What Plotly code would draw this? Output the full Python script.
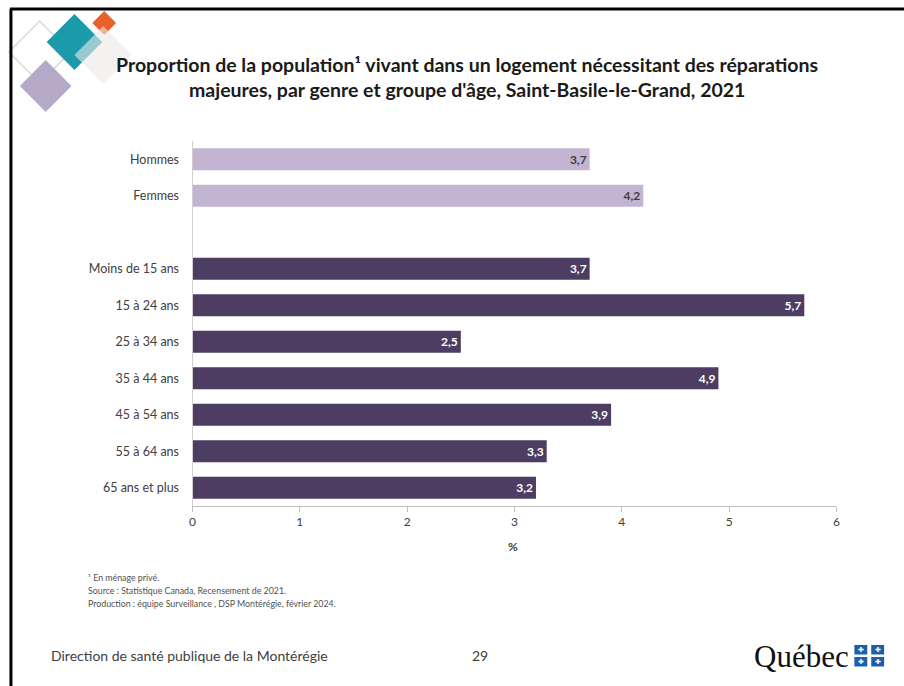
import plotly.graph_objects as go

W, H = 904, 686

gender_labels = ["Hommes", "Femmes"]
gender_values = [3.7, 4.2]
age_labels = ["Moins de 15 ans", "15 à 24 ans", "25 à 34 ans", "35 à 44 ans",
              "45 à 54 ans", "55 à 64 ans", "65 ans et plus"]
age_values = [3.7, 5.7, 2.5, 4.9, 3.9, 3.3, 3.2]
spacer = [" "]
x_ticks = [0, 1, 2, 3, 4, 5, 6]

title_lines = ["Proportion de la population¹ vivant dans un logement nécessitant des réparations",
               "majeures, par genre et groupe d'âge, Saint-Basile-le-Grand, 2021"]
footnotes = ["¹ En ménage privé.",
             "Source : Statistique Canada, Recensement de 2021.",
             "Production : équipe Surveillance , DSP Montérégie, février 2024."]

LIGHT = "#C3B4D2"
DARK = "#4D3D63"
FONT = "Lato, 'Open Sans', sans-serif"


def fmt(v):
    return f"{v:.1f}".replace(".", ",")


def px(x):
    return x / W


def py(y):
    return 1 - y / H


fig = go.Figure()
fig.add_trace(go.Bar(
    y=gender_labels, x=gender_values, orientation="h",
    marker=dict(color=LIGHT, line=dict(width=0)),
    text=[fmt(v) for v in gender_values], textposition="inside",
    insidetextanchor="end", textangle=0,
    textfont=dict(family=FONT, size=12, color="#404040", weight="bold"),
    hoverinfo="x+y",
))
fig.add_trace(go.Bar(
    y=age_labels, x=age_values, orientation="h",
    marker=dict(color=DARK, line=dict(width=0)),
    text=[fmt(v) for v in age_values], textposition="inside",
    insidetextanchor="end", textangle=0,
    textfont=dict(family=FONT, size=12, color="white", weight="bold"),
    hoverinfo="x+y",
))

shapes = []


def diamond(cx, cy, r, fill=None, line=None, opacity=1.0, lw=1.5):
    path = (f"M {px(cx - r)},{py(cy)} L {px(cx)},{py(cy - r)} "
            f"L {px(cx + r)},{py(cy)} L {px(cx)},{py(cy + r)} Z")
    shapes.append(dict(type="path", xref="paper", yref="paper", path=path,
                       fillcolor=fill if fill else "rgba(0,0,0,0)",
                       line=dict(color=line if line else "rgba(0,0,0,0)", width=lw),
                       opacity=opacity, layer="above"))


# logo diamonds
diamond(37, 52, 31, fill=None, line="#D5DAD2", lw=1.5)
diamond(43, 86, 26, fill="#B4AAC8")
diamond(72, 42, 28, fill="#1B9AAA")
diamond(102, 23, 12, fill="#E8602A")
diamond(101, 55, 29, fill="#EDEAE8", opacity=0.6)

# border
shapes.append(dict(type="line", xref="paper", yref="paper",
                   x0=px(8), x1=px(8), y0=py(9), y1=py(690),
                   line=dict(color="black", width=3)))
shapes.append(dict(type="line", xref="paper", yref="paper",
                   x0=px(7), x1=px(910), y0=py(9), y1=py(9),
                   line=dict(color="black", width=3)))

# Quebec flag squares
flag_cells = [(858, 645), (875, 645), (858, 657), (875, 657)]
for (x0, y0) in flag_cells:
    shapes.append(dict(type="rect", xref="paper", yref="paper",
                       x0=px(x0), x1=px(x0 + 13), y0=py(y0), y1=py(y0 + 9.5),
                       fillcolor="#1F5FA8", line=dict(width=0)))

annotations = []
annotations.append(dict(text="<b>" + title_lines[0] + "</b>", x=px(468), y=py(64),
                        xref="paper", yref="paper", showarrow=False,
                        xanchor="center", yanchor="middle",
                        font=dict(family=FONT, size=19.5, color="#1a1a1a")))
annotations.append(dict(text="<b>" + title_lines[1] + "</b>", x=px(468), y=py(90),
                        xref="paper", yref="paper", showarrow=False,
                        xanchor="center", yanchor="middle",
                        font=dict(family=FONT, size=19.5, color="#1a1a1a")))
annotations.append(dict(text="<b>%</b>", x=px(514), y=py(546), xref="paper", yref="paper",
                        showarrow=False, xanchor="center", yanchor="middle",
                        font=dict(family=FONT, size=12, color="#404040")))
for i, line in enumerate(footnotes):
    annotations.append(dict(text=line, x=px(84), y=py(577 + 13 * i), xref="paper", yref="paper",
                            showarrow=False, xanchor="left", yanchor="middle",
                            font=dict(family=FONT, size=8.8, color="#505050")))
annotations.append(dict(text="Direction de santé publique de la Montérégie", x=px(46), y=py(655),
                        xref="paper", yref="paper", showarrow=False, xanchor="left",
                        yanchor="middle", font=dict(family=FONT, size=14, color="#404040")))
annotations.append(dict(text="29", x=px(481), y=py(655), xref="paper", yref="paper",
                        showarrow=False, xanchor="center", yanchor="middle",
                        font=dict(family=FONT, size=14, color="#404040")))
annotations.append(dict(text="Québec", x=px(855), y=py(656), xref="paper", yref="paper",
                        showarrow=False, xanchor="right", yanchor="middle",
                        font=dict(family="'Liberation Serif', serif", size=31, color="#111111")))
for (x0, y0) in flag_cells:
    annotations.append(dict(text="✚", x=px(x0 + 6.5), y=py(y0 + 4.75), xref="paper", yref="paper",
                            showarrow=False, xanchor="center", yanchor="middle",
                            font=dict(family="DejaVu Sans", size=7, color="white")))

fig.update_layout(
    width=W, height=H, autosize=False,
    margin=dict(l=0, r=0, t=0, b=0),
    paper_bgcolor="white", plot_bgcolor="white",
    showlegend=False, barmode="overlay", bargap=0.4,
    shapes=shapes, annotations=annotations,
    font=dict(family=FONT, size=12, color="#404040"),
    xaxis=dict(domain=[px(191), px(840)], range=[x_ticks[0], x_ticks[-1]],
               tickvals=x_ticks, ticks="outside", ticklen=5, tickcolor="#BFBFBF",
               showline=True, linecolor="#BFBFBF", linewidth=1, showgrid=False,
               zeroline=False, tickfont=dict(family=FONT, size=12, color="#404040"),
               fixedrange=True),
    yaxis=dict(domain=[py(506), py(141)], type="category",
               categoryorder="array", categoryarray=gender_labels + spacer + age_labels,
               autorange="reversed", showline=True, linecolor="#D0D0D0", linewidth=1,
               ticks="", showgrid=False, zeroline=False, ticklabelstandoff=10,
               tickfont=dict(family=FONT, size=12.5, color="#404040"), fixedrange=True),
)

fig.write_html("out.html", config={"displayModeBar": False},
               post_script="document.body.style.margin='0';document.body.style.overflow='hidden';")
